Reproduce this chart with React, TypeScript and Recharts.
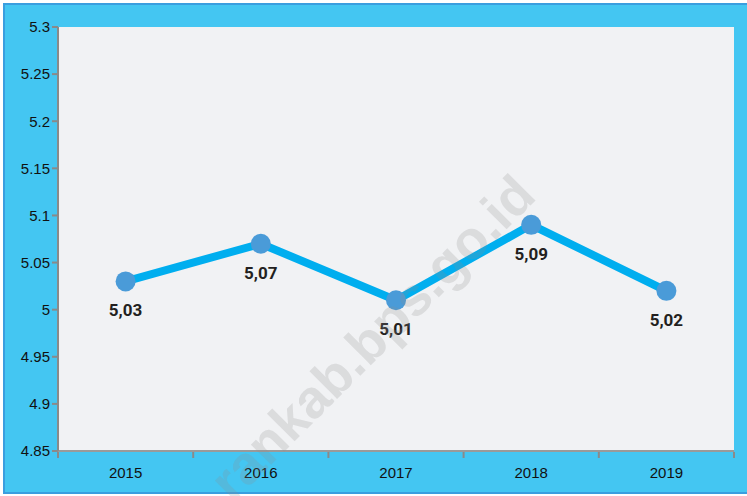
import React from "react";
import { LineChart, Line, XAxis, YAxis, CartesianGrid, LabelList } from "recharts";

const years = ["2015", "2016", "2017", "2018", "2019"];
const values = [5.03, 5.07, 5.01, 5.09, 5.02];
const yTicks = [4.85, 4.9, 4.95, 5, 5.05, 5.1, 5.15, 5.2, 5.25, 5.3];
const watermark = "rankab.bps.go.id";

const data = years.map((y, i) => ({ year: y, value: values[i] }));

const fmtY = (v: number) => String(parseFloat(v.toFixed(2)));
const fmtLabel = (v: number) => v.toFixed(2).replace(".", ",");

const ValueLabel = (props: any) => {
  const { x, y, value } = props;
  return (
    <text
      x={x}
      y={y + 35}
      textAnchor="middle"
      fontFamily="'Liberation Sans Narrow', 'Roboto', Arial, sans-serif"
      fontWeight="bold"
      fontSize={17}
      fill="#231F20"
    >
      {fmtLabel(value)}
    </text>
  );
};

const YearTick = (props: any) => {
  const { x, y, payload, index, visibleTicksCount } = props;
  const half = payload && payload.offset ? payload.offset : 67.6;
  const last = index === (visibleTicksCount ?? years.length) - 1;
  const axisY = y - 1;
  return (
    <g>
      <line x1={x - half} x2={x - half} y1={axisY} y2={axisY + 6} stroke="#8A8A8A" strokeWidth={2} />
      {last && (
        <line x1={x + half} x2={x + half} y1={axisY} y2={axisY + 6} stroke="#8A8A8A" strokeWidth={2} />
      )}
      <text
        x={x}
        y={axisY + 26}
        textAnchor="middle"
        fill="#111"
        fontSize={15}
        fontFamily="'Liberation Sans', Arial, sans-serif"
      >
        {payload.value}
      </text>
    </g>
  );
};

export default function App() {
  return (
    <div
      style={{
        position: "fixed",
        left: 0,
        top: 0,
        width: 747,
        height: 496,
        background: "#ffffff",
        overflow: "hidden",
      }}
    >
      <div
        style={{
          position: "absolute",
          left: 3,
          top: 3,
          width: 760,
          height: 491,
          boxSizing: "border-box",
          border: "2px solid #3A9EDF",
          background: "#44C6F2",
        }}
      />
      <div style={{ position: "absolute", left: 0, top: 0 }}>
        <LineChart
          width={747}
          height={496}
          data={data}
          margin={{ top: 27, right: 13, bottom: 15, left: 0 }}
        >
          <CartesianGrid fill="#F1F2F4" stroke="none" horizontal={false} vertical={false} />
          <XAxis
            dataKey="year"
            scale="band"
            height={30}
            axisLine={{ stroke: "#9A9A9A", strokeWidth: 2 }}
            tickLine={false}
            tickSize={0}
            interval={0}
            tick={<YearTick />}
          />
          <YAxis
            width={58}
            domain={[4.85, 5.3]}
            ticks={yTicks}
            type="number"
            allowDataOverflow
            tickFormatter={fmtY}
            tickSize={6}
            axisLine={{ stroke: "#8A8A8A", strokeWidth: 2 }}
            tickLine={{ stroke: "#8A8A8A", strokeWidth: 2 }}
            tick={{ fill: "#111", fontSize: 15, fontFamily: "'Liberation Sans', Arial, sans-serif" }}
          />
          <Line
            type="linear"
            dataKey="value"
            stroke="#00AEEF"
            strokeWidth={8}
            dot={{ r: 10, fill: "#4A9BD8", stroke: "none" }}
            activeDot={false}
            isAnimationActive={false}
          >
            <LabelList dataKey="value" content={ValueLabel} />
          </Line>
        </LineChart>
      </div>
      <svg
        width={747}
        height={496}
        style={{ position: "absolute", left: 0, top: 0, pointerEvents: "none" }}
      >
        <text
          x={538}
          y={198}
          textAnchor="end"
          transform="rotate(-45 538 198)"
          fontFamily="'Liberation Sans', Arial, sans-serif"
          fontWeight="bold"
          fontSize={54}
          fill="#8C8C8C"
          fillOpacity={0.22}
        >
          {watermark}
        </text>
      </svg>
    </div>
  );
}
